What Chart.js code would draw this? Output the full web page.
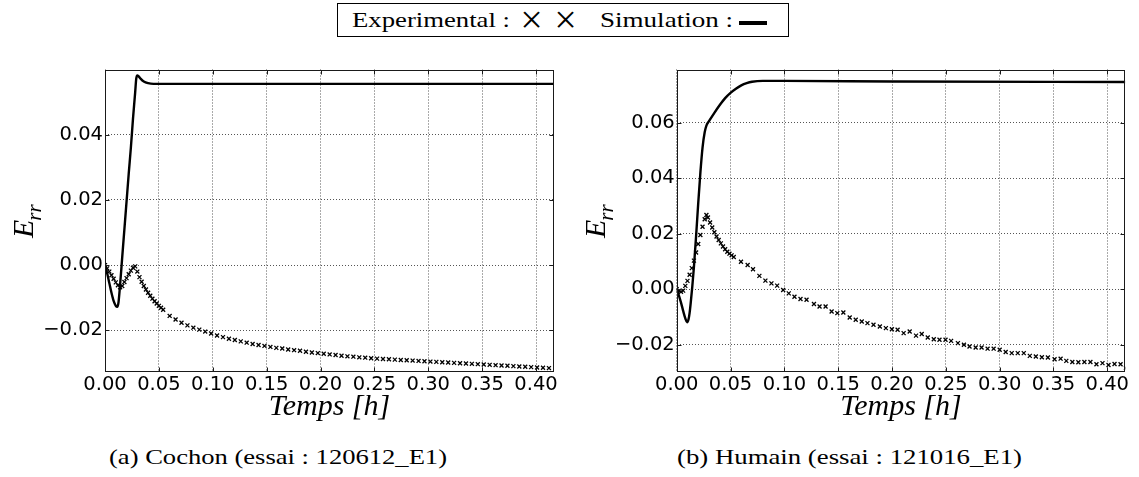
<!DOCTYPE html>
<html><head><meta charset="utf-8">
<script src="https://cdn.jsdelivr.net/npm/chart.js@4.4.0/dist/chart.umd.min.js"></script>
<style>
html,body{margin:0;padding:0;background:#fff;}
body{width:1139px;height:477px;position:relative;overflow:hidden;font-family:"Liberation Serif",serif;color:#000;}
canvas{position:absolute;top:0;}
.t{position:absolute;white-space:nowrap;transform-origin:0 0;line-height:1;}
</style></head><body>
<div style="position:absolute;left:337px;top:3px;width:452px;height:34px;border:1px solid #000;box-sizing:border-box;"></div>
<div class="t" id="lgExp" style="left:352px;top:9.7px;font-size:21px;" data-w="158">Experimental :</div>
<div class="t" id="lgX1" style="left:520px;top:-0.5px;font-size:40px;width:23px;text-align:center;">×</div>
<div class="t" id="lgX2" style="left:554px;top:-0.5px;font-size:40px;width:23px;text-align:center;">×</div>
<div class="t" id="lgSim" style="left:600px;top:9.7px;font-size:21px;" data-w="133">Simulation :</div>
<div style="position:absolute;left:739px;top:21px;width:28px;height:4px;background:#000;"></div>
<canvas id="cA" width="570" height="440" style="left:0px;width:570px;height:440px;"></canvas>
<canvas id="cB" width="569" height="440" style="left:570px;width:569px;height:440px;"></canvas>
<div class="t" id="capA" style="left:109px;top:446px;font-size:22px;" data-w="338">(a) Cochon (essai : 120612_E1)</div>
<div class="t" id="capB" style="left:677px;top:446px;font-size:22px;" data-w="345">(b) Humain (essai : 121016_E1)</div>
<script>
// ---------- data ----------
const tickX = [0, 0.05, 0.10, 0.15, 0.20, 0.25, 0.30, 0.35, 0.40];
const tickYA = [-0.02, 0.00, 0.02, 0.04];
const tickYB = [-0.02, 0.00, 0.02, 0.04, 0.06];
const limX = [0, 0.4167];
const limYA = [-0.0328, 0.0600];
const limYB = [-0.0298, 0.0791];

// (a) Cochon - simulation
const simTimeA = [0,0.002,0.004,0.006,0.008,0.010,0.0114,0.0125,0.0139,0.016,0.018,0.020,0.022,0.024,0.026,0.028,0.029,0.030,0.031,0.033,0.036,0.040,0.045,0.4167];
const simValA  = [0,-0.0025,-0.0055,-0.0085,-0.0110,-0.0125,-0.0128,-0.0115,-0.0065,0.0025,0.0110,0.0195,0.0280,0.0360,0.0450,0.0530,0.0572,0.0582,0.0580,0.0572,0.0563,0.0558,0.0556,0.0556];
// (a) Cochon - experimental
const expTimeA = [0,0.002,0.004,0.006,0.008,0.010,0.012,0.014,0.016,0.018,0.020,0.022,0.024,0.026,0.028,0.030,0.032,0.034,0.036,0.038,0.040,0.042,0.044,0.046,0.048,0.050,0.052,0.054,
  0.060,0.0655,0.071,0.0765,0.082,0.0875,0.093,0.0985,0.104,0.1095,0.115,0.1205,0.126,0.1315,0.137,0.1425,0.148,0.1535,0.159,0.1645,0.170,0.1755,0.181,0.1865,0.192,0.1975,0.203,0.2085,0.214,0.2195,0.225,0.2305,0.236,0.2415,0.247,0.2525,0.258,0.2635,0.269,0.2745,0.280,0.2855,0.291,0.2965,0.302,0.3075,0.313,0.3185,0.324,0.3295,0.335,0.3405,0.346,0.3515,0.357,0.3625,0.368,0.3735,0.379,0.3845,0.390,0.3955,0.401,0.4065,0.412];
const expValA = [0,-0.0010,-0.0020,-0.0031,-0.0042,-0.0053,-0.0062,-0.0068,-0.0064,-0.0052,-0.0040,-0.0028,-0.0017,-0.0008,-0.0004,-0.0020,-0.0037,-0.0051,-0.0064,-0.0075,-0.0085,-0.0094,-0.0103,-0.0111,-0.0118,-0.0125,-0.0131,-0.0137,
  -0.0156,-0.0167,-0.0177,-0.0185,-0.0192,-0.0198,-0.0204,-0.0210,-0.0216,-0.0221,-0.0226,-0.0230,-0.0234,-0.0238,-0.0242,-0.0245,-0.0248,-0.0251,-0.0254,-0.0256,-0.0259,-0.0261,-0.0263,-0.0266,-0.0268,-0.0270,-0.0272,-0.0274,-0.0276,-0.0278,-0.0280,-0.0281,-0.0283,-0.0284,-0.0286,-0.0287,-0.0288,-0.0289,-0.0290,-0.0291,-0.0292,-0.0293,-0.0294,-0.0295,-0.0296,-0.0297,-0.0298,-0.0299,-0.0300,-0.0301,-0.0302,-0.0303,-0.0304,-0.0305,-0.0306,-0.0307,-0.0308,-0.0309,-0.0310,-0.0311,-0.0312,-0.0313,-0.0314,-0.0315,-0.0316];

// (b) Humain - simulation
const simTimeB = [0,0.002,0.004,0.006,0.008,0.0096,0.011,0.012,0.013,0.0145,0.016,0.018,0.020,0.022,0.024,0.026,0.0276,0.030,0.035,0.040,0.045,0.050,0.055,0.060,0.065,0.070,0.080,0.100,0.200,0.4167];
const simValB  = [0,-0.0022,-0.0048,-0.0078,-0.0105,-0.0119,-0.0108,-0.0085,-0.0050,0.0010,0.0080,0.0190,0.0310,0.0420,0.0510,0.0565,0.0589,0.0605,0.0635,0.0663,0.0688,0.0707,0.0722,0.0734,0.0742,0.0747,0.0750,0.0750,0.0748,0.0746];
// (b) Humain - experimental
const expTimeB = [0,0.002,0.004,0.006,0.008,0.010,0.012,0.014,0.016,0.018,0.020,0.022,0.024,0.026,0.0276,0.029,0.031,0.033,0.035,0.037,0.039,0.041,0.043,0.045,0.047,0.049,0.051,0.053,
  0.0597,0.0659,0.0709,0.0768,0.0824,0.0880,0.0933,0.0989,0.1041,0.1094,0.1150,0.1206,0.1275,0.1327,0.1383,0.1439,0.1492,0.1548,0.1607,0.1663,0.1719,0.1772,0.1828,0.1887,0.1943,0.1999,0.2052,0.2108,0.2164,0.2223,0.2276,0.2332,0.2388,0.2441,0.2497,0.2549,0.2612,0.2668,0.2720,0.2777,0.2832,0.2888,0.2944,0.3000,0.3056,0.3112,0.3168,0.3224,0.3280,0.3336,0.3392,0.3448,0.3510,0.3566,0.3619,0.3675,0.3731,0.3787,0.3843,0.3899,0.3955,0.4011,0.4067,0.4123,0.4173];
const expValB = [0,-0.0006,-0.0009,-0.0005,0.0012,0.0030,0.0052,0.0076,0.0103,0.0132,0.0163,0.0195,0.0225,0.0252,0.0267,0.0258,0.0240,0.0222,0.0205,0.0190,0.0177,0.0165,0.0154,0.0144,0.0135,0.0128,0.0122,0.0116,
  0.0099,0.0087,0.0072,0.0048,0.0031,0.0021,0.0013,-0.0003,-0.0015,-0.0027,-0.0035,-0.0038,-0.0053,-0.0062,-0.0062,-0.0080,-0.0086,-0.0084,-0.0102,-0.0110,-0.0116,-0.0122,-0.0128,-0.0134,-0.0140,-0.0144,-0.0146,-0.0158,-0.0152,-0.0167,-0.0161,-0.0174,-0.0180,-0.0182,-0.0182,-0.0186,-0.0194,-0.0200,-0.0206,-0.0210,-0.0210,-0.0214,-0.0214,-0.0218,-0.0226,-0.0230,-0.0230,-0.0230,-0.0240,-0.0242,-0.0245,-0.0246,-0.0252,-0.0250,-0.0258,-0.0262,-0.0263,-0.0262,-0.0262,-0.0270,-0.0266,-0.0273,-0.0269,-0.0270,-0.0284];

// ---------- helpers ----------
const pts = (t, v) => t.map((x, i) => ({x: x, y: v[i]}));
const fmt = v => (v < -1e-9 ? '\u2212' : '') + Math.abs(v).toFixed(2);

Chart.defaults.font.family = '"DejaVu Sans", sans-serif';
Chart.defaults.color = '#000';

const framePlugin = {
  id: 'frame',
  afterDatasetsDraw(chart) {
    const {ctx, chartArea: a, scales: {x, y}} = chart;
    ctx.save();
    ctx.strokeStyle = '#1a1a1a';
    ctx.lineWidth = 1;
    const L = Math.round(a.left) + 0.5, R = Math.round(a.right) - 0.5;
    const T = Math.round(a.top) + 0.5, B = Math.round(a.bottom) - 0.5;
    ctx.strokeRect(L, T, R - L, B - T);
    ctx.beginPath();
    const tl = 4;
    x.ticks.forEach(tk => {
      const px = Math.round(x.getPixelForValue(tk.value)) + 0.5;
      ctx.moveTo(px, B); ctx.lineTo(px, B - tl);
      ctx.moveTo(px, T); ctx.lineTo(px, T + tl);
    });
    y.ticks.forEach(tk => {
      const py = Math.round(y.getPixelForValue(tk.value)) + 0.5;
      ctx.moveTo(L, py); ctx.lineTo(L + tl, py);
      ctx.moveTo(R, py); ctx.lineTo(R - tl, py);
    });
    ctx.stroke();
    // y axis label  E_rr
    ctx.translate(a.left - 72, (a.top + a.bottom) / 2);
    ctx.rotate(-Math.PI / 2);
    ctx.fillStyle = '#000';
    ctx.textAlign = 'left';
    ctx.textBaseline = 'alphabetic';
    const fBig = 'italic 30px "Liberation Serif"', fSub = 'italic 21px "Liberation Serif"';
    ctx.font = fBig; const wE = ctx.measureText('E').width;
    ctx.font = fSub; const wR = ctx.measureText('rr').width;
    const x0 = -(wE + wR) / 2;
    ctx.font = fBig; ctx.fillText('E', x0, 0);
    ctx.font = fSub; ctx.fillText('rr', x0 + wE - 1, 8);
    ctx.restore();
  }
};

function makePanel(id, simT, simV, expT, expV, yTicks, yLim, yWidth, padRight) {
  return new Chart(document.getElementById(id), {
    type: 'scatter',
    data: {
      datasets: [
        {label: 'Simulation', data: pts(simT, simV), showLine: true, borderColor: '#000', borderWidth: 2.4,
         pointRadius: 0, cubicInterpolationMode: 'monotone', fill: false, order: 0},
        {label: 'Experimental', data: pts(expT, expV), showLine: false, pointStyle: 'crossRot', pointRadius: 2.8,
         borderColor: '#000', backgroundColor: '#000', borderWidth: 1.3, order: 1}
      ]
    },
    options: {
      responsive: false, animation: false, devicePixelRatio: 1, events: [],
      layout: {padding: {left: 0, right: padRight, top: 69.5, bottom: 0}},
      plugins: {legend: {display: false}, tooltip: {enabled: false}},
      scales: {
        x: {
          type: 'linear', min: limX[0], max: limX[1],
          afterBuildTicks: s => { s.ticks = tickX.map(v => ({value: v})); },
          afterFit: s => { s.height = 68; },
          ticks: {callback: v => fmt(v), font: {size: 19.5}, padding: 1, maxRotation: 0, autoSkip: false, color: '#000'},
          grid: {color: '#555', lineWidth: 1, drawTicks: false},
          border: {display: false, dash: [1, 2]},
          title: {display: true, text: 'Temps [h]', color: '#000',
                  font: {family: '"Liberation Serif", serif', style: 'italic', size: 30}, padding: {top: 0, bottom: 15}}
        },
        y: {
          type: 'linear', min: yLim[0], max: yLim[1],
          afterBuildTicks: s => { s.ticks = yTicks.map(v => ({value: v})); },
          afterFit: s => { s.width = yWidth; },
          ticks: {callback: v => fmt(v), font: {size: 19.5}, padding: 2, autoSkip: false, color: '#000'},
          grid: {color: '#555', lineWidth: 1, drawTicks: false},
          border: {display: false, dash: [1, 2]}
        }
      }
    },
    plugins: [framePlugin]
  });
}

makePanel('cA', simTimeA, simValA, expTimeA, expValA, tickYA, limYA, 105, 16);
makePanel('cB', simTimeB, simValB, expTimeB, expValB, tickYB, limYB, 106.7, 13.7);

// stretch serif text pieces horizontally to the widths of the reference typesetting
document.querySelectorAll('[data-w]').forEach(el => {
  const w = el.getBoundingClientRect().width;
  el.style.transform = 'scaleX(' + (parseFloat(el.dataset.w) / w) + ')';
});
</script>
</body></html>
